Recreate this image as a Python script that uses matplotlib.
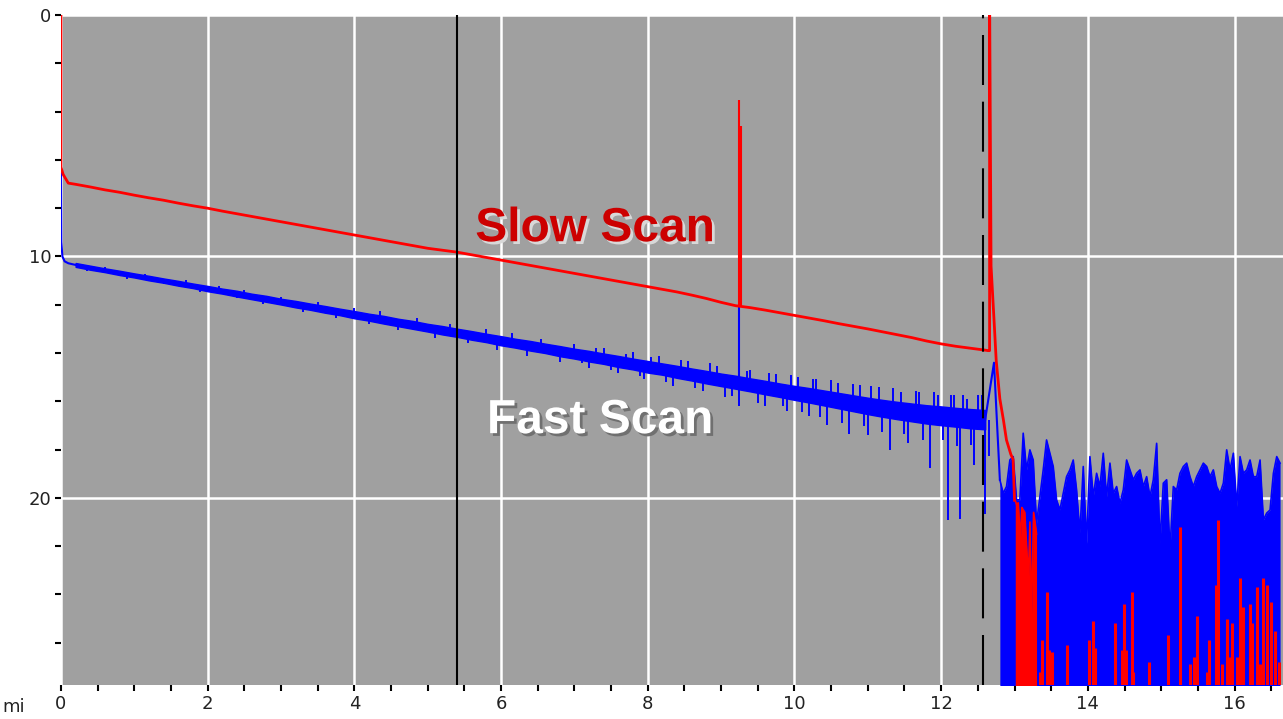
import matplotlib
matplotlib.use('Agg')
import matplotlib.pyplot as plt
import matplotlib.patheffects as pe
import numpy as np

# ---- data ----
# fast scan (blue): start, then the noise band (upper / lower edge every 0.2 from 0.2)
blue_head_x = [0.0, 0.005, 0.02, 0.05, 0.1, 0.2]
blue_head_y = [6.1, 9.4, 10.0, 10.2, 10.28, 10.35]
blue_upper = [10.27, 10.38, 10.49, 10.59, 10.70, 10.80, 10.91, 11.01, 11.12, 11.22,
              11.33, 11.42, 11.54, 11.63, 11.75, 11.84, 11.95, 12.05, 12.16, 12.26,
              12.37, 12.46, 12.58, 12.67, 12.79, 12.88, 12.99, 13.09, 13.20, 13.30,
              13.41, 13.50, 13.61, 13.71, 13.82, 13.91, 14.02, 14.12, 14.23, 14.33,
              14.43, 14.53, 14.64, 14.74, 14.85, 14.94, 15.05, 15.15, 15.26, 15.36,
              15.45, 15.55, 15.65, 15.75, 15.85, 15.94, 16.02, 16.09, 16.16, 16.21,
              16.27, 16.32, 16.36]
blue_lower = [10.43, 10.55, 10.65, 10.77, 10.87, 10.99, 11.09, 11.21, 11.31, 11.44,
              11.54, 11.66, 11.77, 11.88, 11.99, 12.11, 12.21, 12.33, 12.43, 12.56,
              12.66, 12.78, 12.89, 13.00, 13.11, 13.23, 13.33, 13.45, 13.55, 13.68,
              13.78, 13.90, 14.00, 14.13, 14.23, 14.35, 14.45, 14.58, 14.68, 14.81,
              14.90, 15.03, 15.14, 15.26, 15.37, 15.48, 15.59, 15.71, 15.82, 15.94,
              16.05, 16.17, 16.29, 16.41, 16.53, 16.64, 16.74, 16.83, 16.92, 16.99,
              17.05, 17.12, 17.16]
# single samples sticking out of the band: position and signed offset from band centre
blue_spike_x = [0.35, 0.6, 0.9, 1.15, 1.4, 1.7, 1.9, 2.15, 2.4, 2.5, 2.75, 3.0, 3.3, 3.5,
                3.75, 4.0, 4.2, 4.35, 4.6, 4.85, 5.1, 5.3, 5.55, 5.8, 5.95, 6.15, 6.35,
                6.55, 6.8, 7.0, 7.2, 7.4, 7.6, 7.8, 7.95, 8.15, 8.35, 8.55, 8.75, 8.85,
                9.05, 9.25, 9.4, 9.6, 9.75, 9.9, 10.05, 10.2, 10.3, 10.45, 10.6, 10.75,
                10.9, 11.0, 11.15, 11.3, 11.45, 11.55, 11.7, 11.85, 11.95, 12.09, 12.18,
                12.26, 12.35, 12.45, 12.55, 12.6,
                7.1, 7.3, 7.5, 7.7, 7.9, 8.05, 8.25, 8.45, 8.65, 8.95, 9.15, 9.35, 9.5,
                9.65, 9.85, 9.95, 10.1, 10.25, 10.35, 10.5, 10.65, 10.8, 10.95, 11.05,
                11.2, 11.35, 11.5, 11.65, 11.75, 11.9, 12.02, 12.13, 12.22, 12.3, 12.4,
                12.5, 12.65]
blue_spike_dev = [0.15, -0.14, 0.18, -0.15, 0.16, -0.17, 0.2, -0.18, 0.2, -0.22, 0.22, -0.2, 0.28, -0.25,
                  0.27, -0.28, 0.3, -0.32, 0.33, -0.3, 0.38, -0.33, 0.35, -0.36, 0.42, -0.4, 0.45,
                  -0.38, 0.45, -0.42, 0.5, -0.45, 0.48, -0.5, 0.55, -0.52, 0.6, -0.55, 0.62, -0.6,
                  0.7, 0.95, -0.6, 0.75, -0.65, 0.8, -0.7, 0.85, -0.75, 1.1, -0.72, 1.3,
                  -0.8, 1.2, -0.85, 1.7, -0.8, 1.3, -0.9, 2.2, -0.85, 4.3, -0.9,
                  4.2, -0.8, 1.9, -1.0, 3.9,
                  0.35, -0.4, 0.42, -0.38, 0.45, -0.45, 0.5, -0.5, 0.55, -0.55, 0.6, -0.55, 0.7,
                  -0.65, 0.62, -0.7, 0.75, -0.72, 0.8, -0.78, 0.9, -0.8, 0.85, -0.85,
                  1.0, -0.9, 0.95, -0.9, 1.1, -0.95, 1.0, -0.9, 1.2, -0.95, 1.1,
                  -1.0, 1.5]
blue_marker_x = 9.25
blue_marker_top = 12.05
blue_tail_top = [19.25, 19.81, 19.53, 18.43, 18.29, 20.08, 20.08, 17.32, 18.84, 18.01,
                 18.43, 21.05, 19.95, 18.84, 17.60, 18.15, 18.70, 20.08, 20.50, 19.81,
                 19.12, 18.84, 18.43, 19.67, 21.46, 18.70, 21.88, 18.29, 19.95, 18.98,
                 19.53, 18.15, 19.95, 18.56, 19.81, 19.53, 20.22, 19.67, 18.43, 18.84,
                 19.25, 18.98, 18.84, 19.53, 19.12, 19.95, 19.25, 17.74, 21.88, 19.39,
                 19.25, 22.15, 19.53, 19.67, 18.98, 18.70, 18.56, 19.12, 19.53, 19.12,
                 18.84, 18.56, 18.70, 19.12, 18.84, 19.53, 19.81, 19.39, 18.01, 18.84,
                 18.15, 20.36, 18.29, 18.98, 18.84, 18.43, 19.12, 19.12, 18.43, 20.91,
                 20.63, 20.50, 18.98, 18.29, 18.56]

# slow scan (red): start, body every 0.2 from 0.2, end of fibre
red_head_x = [0.0, 0.0, 0.03, 0.1]
red_head_y = [0.0, 6.3, 6.6, 6.96]
red_body = [7.01, 7.12, 7.24, 7.34, 7.46, 7.57, 7.67, 7.79, 7.90, 8.00,
            8.12, 8.23, 8.34, 8.45, 8.56, 8.67, 8.78, 8.89, 9.00, 9.11,
            9.22, 9.33, 9.44, 9.55, 9.66, 9.74, 9.82, 9.93, 10.04, 10.15,
            10.26, 10.37, 10.48, 10.59, 10.70, 10.81, 10.92, 11.03, 11.14, 11.25,
            11.36, 11.47, 11.60, 11.74, 11.90, 12.04, 12.12, 12.22, 12.33, 12.44,
            12.55, 12.66, 12.78, 12.89, 13.00, 13.12, 13.24, 13.36, 13.50, 13.62,
            13.72, 13.80, 13.88]
red_end_x = [12.64, 12.66, 12.66, 12.68, 12.72, 12.75, 12.80, 12.85, 12.89, 12.95, 12.98, 13.0]
red_end_y = [13.90, 13.90, -1.0, 10.4, 12.6, 14.3, 15.9, 16.8, 17.6, 18.2, 18.4, 20.1]
red_spike_x = [9.25, 9.27]
red_spike_top = [3.5, 4.6]
red_burst_x = [13.01, 13.03, 13.05, 13.08, 13.10, 13.12, 13.14, 13.17, 13.19, 13.21, 13.23, 13.26, 13.28, 13.30]
red_burst_top = [20.1, 20.3, 20.2, 21.7, 20.4, 20.5, 20.6, 22.3, 23.3, 21.0, 25.0, 20.6, 21.0, 21.5]
red_tail_x = [13.35, 13.38, 13.44, 13.47, 13.51, 13.72, 14.02, 14.07, 14.10, 14.37,
              14.47, 14.49, 14.52, 14.60, 14.62, 14.84, 15.09, 15.25, 15.39, 15.44,
              15.49, 15.62, 15.65, 15.75, 15.78, 15.83, 15.89, 15.93, 15.97, 16.03,
              16.08, 16.12, 16.21, 16.24, 16.30, 16.35, 16.39, 16.44, 16.49, 16.55, 16.60]
red_tail_top = [27.2, 25.9, 23.9, 26.3, 26.4, 26.1, 25.9, 25.1, 26.2, 25.2,
                26.3, 24.4, 26.3, 23.9, 27.2, 26.8, 25.7, 21.2, 26.9, 26.6,
                24.9, 27.2, 25.9, 23.6, 20.9, 26.9, 25.0, 26.6, 25.2, 26.6,
                23.3, 24.5, 24.4, 25.2, 23.7, 26.9, 23.3, 23.6, 24.3, 25.5, 26.8]

cursor_a = 5.40
cursor_b = 12.57

# ---- plot ----
fig = plt.figure(figsize=(12.83, 7.19), dpi=100)
ax = fig.add_axes([0.0475, 0.047, 0.9525, 0.932])
ax.set_facecolor('#a0a0a0')

bottom = 30  # below the visible range, so the tail fills reach the axis
lw = 1.5
blue = '#0000ff'
red = '#ff0000'

# blue trace
band_x = 0.2 + 0.2 * np.arange(len(blue_upper))
band_mid = (np.array(blue_upper) + np.array(blue_lower)) / 2
ax.plot(blue_head_x, blue_head_y, color=blue, lw=lw, zorder=2)
ax.fill_between(band_x, blue_upper, blue_lower, color=blue, lw=1.0, edgecolor=blue, zorder=2)
spike_base = np.interp(blue_spike_x, band_x, band_mid)
ax.vlines(blue_spike_x, spike_base, spike_base + np.array(blue_spike_dev), color=blue, lw=1.4, zorder=2)
ax.vlines(blue_marker_x, blue_marker_top, np.interp(blue_marker_x, band_x, band_mid),
          color=blue, lw=lw, zorder=2)
tail_x = np.linspace(12.80, 16.62, len(blue_tail_top))
ax.plot([band_x[-1], 12.72, tail_x[0]], [band_mid[-1], 14.4, blue_tail_top[0]], color=blue, lw=lw, zorder=2)
ax.fill_between(tail_x, blue_tail_top, bottom, color=blue, lw=0, zorder=2)
ax.plot(tail_x, blue_tail_top, color=blue, lw=1.2, zorder=2)

# red trace
red_x = red_head_x + list(0.2 + 0.2 * np.arange(len(red_body))) + red_end_x
red_y = red_head_y + red_body + red_end_y
ax.plot(red_x, red_y, color=red, lw=2.0, zorder=3)
ax.vlines(red_spike_x, red_spike_top, 12.1, color=red, lw=lw, zorder=3)
ax.fill_between(red_burst_x, red_burst_top, bottom, color=red, lw=0, zorder=3)
ax.plot(red_burst_x, red_burst_top, color=red, lw=1.2, zorder=3)
ax.vlines(red_tail_x, red_tail_top, bottom, color=red, lw=2.2, zorder=3)

# cursors
ax.axvline(cursor_a, color='black', lw=1.5, zorder=4)
ax.axvline(cursor_b, color='black', lw=1.5, ls=(0, (24, 8)), zorder=4)

# axes look
ax.set_xlim(0, 16.66)
ax.set_ylim(27.76, 0)
ax.set_xticks(np.arange(0, 17, 2))
ax.set_xticks(np.arange(0, 16.7, 0.5), minor=True)
ax.set_yticks([0, 10, 20])
ax.set_yticks(np.arange(0, 27, 2), minor=True)
ax.grid(True, which='major', color='white', lw=1.8, zorder=0)
ax.set_axisbelow(True)
for s in ax.spines.values():
    s.set_visible(False)
ax.tick_params(which='both', direction='out', length=4, width=1.5, color='black',
               labelsize=13, labelcolor='#222222', pad=3)

# labels on the trace
ax.text(7.28, 8.85, 'Slow Scan', color='#cc0000', fontsize=34.5, fontweight='bold',
        family='Liberation Sans', ha='center', va='center', zorder=5,
        path_effects=[pe.withSimplePatchShadow(offset=(2, -2), shadow_rgbFace='#d8d8d8', alpha=1)])
ax.text(7.35, 16.8, 'Fast Scan', color='white', fontsize=34.5, fontweight='bold',
        family='Liberation Sans', ha='center', va='center', zorder=5,
        path_effects=[pe.withSimplePatchShadow(offset=(2, -2), shadow_rgbFace='#707070', alpha=1)])

fig.text(0.002, 0.017, 'mi', fontsize=13, color='#222222', ha='left', va='center')

fig.savefig('out.png', dpi=100)
